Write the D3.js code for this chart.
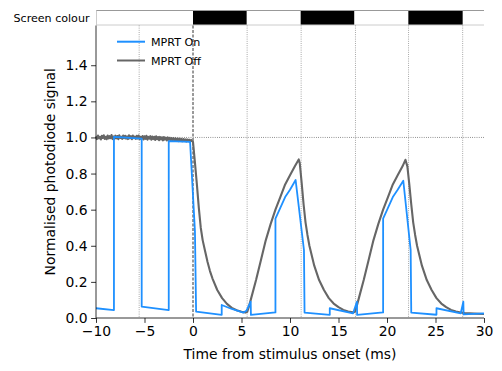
<!DOCTYPE html>
<html>
<head>
<meta charset="utf-8">
<script src="https://cdnjs.cloudflare.com/ajax/libs/d3/7.8.5/d3.min.js"></script>
<style>
  html, body { margin: 0; padding: 0; background: #fff; }
  svg { display: block; font-family: "DejaVu Sans", sans-serif; }
</style>
</head>
<body>
<svg id="chart" width="502" height="371"></svg>
<script>
// ---------------- data ----------------
// MPRT Off (grey), pre-onset noisy baseline: time (ms) and normalised signal
const offBaseTime = [
  -10.0,-9.9,-9.8,-9.7,-9.6,-9.5,-9.4,-9.3,-9.2,-9.1,
  -9.0,-8.9,-8.8,-8.7,-8.6,-8.5,-8.4,-8.3,-8.2,-8.1,
  -8.0,-7.9,-7.8,-7.7,-7.6,-7.5,-7.4,-7.3,-7.2,-7.1,
  -7.0,-6.9,-6.8,-6.7,-6.6,-6.5,-6.4,-6.3,-6.2,-6.1,
  -6.0,-5.9,-5.8,-5.7,-5.6,-5.5,-5.4,-5.3,-5.2,-5.1,
  -5.0,-4.9,-4.8,-4.7,-4.6,-4.5,-4.4,-4.3,-4.2,-4.1,
  -4.0,-3.9,-3.8,-3.7,-3.6,-3.5,-3.4,-3.3,-3.2,-3.1,
  -3.0,-2.9,-2.8,-2.7,-2.6,-2.5,-2.4,-2.3,-2.2,-2.1,
  -2.0,-1.9,-1.8,-1.7,-1.6,-1.5,-1.4,-1.3,-1.2,-1.1,
  -1.0,-0.9,-0.8,-0.7,-0.6,-0.5,-0.4,-0.3,-0.2,-0.1
];
const offBaseValue = [
  1.006,0.991,1.011,0.995,1.003,0.989,1.009,0.997,1.012,0.992,
  1.004,0.990,1.010,0.994,1.007,0.996,1.013,0.991,1.005,0.993,
  1.010,0.995,1.008,0.990,1.012,0.997,1.004,0.992,1.011,0.996,
  1.009,0.993,1.006,0.991,1.012,0.995,1.007,0.990,1.010,0.996,
  1.005,0.992,1.009,0.994,1.011,0.990,1.004,0.993,1.008,0.989,
  1.006,0.992,1.009,0.988,1.003,0.994,1.007,0.987,1.005,0.991,
  1.004,0.986,1.006,0.990,1.002,0.985,1.003,0.989,1.001,0.984,
  1.002,0.988,0.999,0.983,1.000,0.987,0.998,0.982,0.997,0.985,
  0.996,0.981,0.995,0.984,0.994,0.980,0.993,0.983,0.992,0.979,
  0.991,0.982,0.990,0.978,0.989,0.980,0.988,0.977,0.986,0.979
];
// MPRT Off (grey), from stimulus onset
const offTime = [
  0.0,0.2,0.4,0.6,0.8,1.0,1.25,1.5,1.75,2.0,2.5,3.0,3.5,4.0,4.5,5.0,5.4,5.6,
  5.8,6.0,6.5,7.0,7.5,8.0,8.5,9.0,9.5,10.0,10.5,10.9,
  11.0,11.2,11.4,11.6,11.8,12.0,12.5,13.0,13.5,14.0,14.5,15.0,15.5,16.0,16.5,16.7,
  16.9,17.1,17.6,18.1,18.6,19.1,19.6,20.1,20.6,21.1,21.6,21.9,
  22.1,22.3,22.5,22.7,22.9,23.1,23.6,24.1,24.6,25.1,25.6,26.1,26.6,27.1,27.6,28.0,29.0,30.0
];
const offValue = [
  0.975,0.86,0.74,0.61,0.50,0.43,0.37,0.31,0.26,0.22,0.155,0.11,0.078,0.056,0.043,0.034,0.030,0.035,
  0.07,0.11,0.21,0.32,0.43,0.52,0.60,0.67,0.74,0.79,0.84,0.878,
  0.86,0.75,0.63,0.53,0.46,0.40,0.29,0.21,0.155,0.11,0.08,0.06,0.045,0.036,0.031,0.035,
  0.07,0.11,0.21,0.32,0.43,0.52,0.60,0.67,0.74,0.79,0.84,0.876,
  0.84,0.74,0.63,0.53,0.46,0.40,0.29,0.21,0.155,0.11,0.08,0.06,0.045,0.036,0.030,0.027,0.024,0.022
];
// MPRT On (blue)
const onTime = [
  -10.0,-8.15,-8.15,-5.29,-5.29,-2.5,-2.5,-0.3,0.2,0.32,
  2.96,2.96,4.0,5.2,5.5,5.95,5.97,8.5,8.5,9.0,9.5,10.0,10.58,11.44,11.5,
  14.1,14.1,16.5,16.9,16.92,19.6,19.6,20.1,20.6,21.1,21.68,22.44,22.5,
  25.1,25.1,27.6,27.87,27.9,30.0
];
const onValue = [
  0.054,0.044,1.003,0.994,0.063,0.044,0.980,0.975,0.48,0.035,
  0.017,0.072,0.05,0.030,0.040,0.09,0.017,0.031,0.55,0.61,0.67,0.71,0.764,0.376,0.03,
  0.017,0.054,0.026,0.09,0.017,0.031,0.55,0.61,0.67,0.71,0.76,0.376,0.03,
  0.018,0.054,0.026,0.09,0.02,0.026
];
const seriesNames = ["MPRT On", "MPRT Off"];
const seriesColors = ["#1e90ff", "#666666"];
// frame boundaries (ms) and black screen periods
const frameLines = [-5.55, 5.58, 11.15, 16.75, 22.22, 27.8];
const blackStart = [0, 11.1, 22.2];
const blackEnd = [5.53, 16.62, 27.8];
const xTicks = [-10, -5, 0, 5, 10, 15, 20, 25, 30];
const yTicks = [0, 0.2, 0.4, 0.6, 0.8, 1.0, 1.2, 1.4];

// ---------------- layout ----------------
const svg = d3.select("#chart");
const L = 96, R = 484, T = 25.5, B = 318;
const x = d3.scaleLinear().domain([-10, 30]).range([L, R]);
const y = d3.scaleLinear().domain([0, 1.62]).range([B, T]);

// screen colour bar
const barTop = 10.5, barBot = 25;
svg.append("g").selectAll("rect").data(blackStart).join("rect")
  .attr("x", (d, i) => x(d)).attr("width", (d, i) => x(blackEnd[i]) - x(d))
  .attr("y", barTop).attr("height", barBot - barTop).attr("fill", "#000");
svg.append("line").attr("x1", L).attr("x2", R).attr("y1", barTop).attr("y2", barTop)
  .attr("stroke", "#999").attr("stroke-width", 1);
svg.append("line").attr("x1", L).attr("x2", R).attr("y1", barBot).attr("y2", barBot)
  .attr("stroke", "#ccc").attr("stroke-width", 1);
svg.append("line").attr("x1", L + 0.5).attr("x2", L + 0.5).attr("y1", barTop).attr("y2", barBot)
  .attr("stroke", "#ccc").attr("stroke-width", 1);
svg.append("text").attr("x", 89.5).attr("y", 21.5).attr("text-anchor", "end")
  .attr("font-size", "11.1px").text("Screen colour");

// reference lines
svg.append("g").selectAll("line").data(frameLines).join("line")
  .attr("x1", d => x(d)).attr("x2", d => x(d)).attr("y1", T).attr("y2", B)
  .attr("stroke", "#777").attr("stroke-width", 0.8).attr("stroke-dasharray", "0.8,1.4");
svg.append("line").attr("x1", x(0)).attr("x2", x(0)).attr("y1", T).attr("y2", B)
  .attr("stroke", "#000").attr("stroke-width", 0.8).attr("stroke-dasharray", "3,1.5");
svg.append("line").attr("x1", L).attr("x2", R).attr("y1", y(1)).attr("y2", y(1))
  .attr("stroke", "#555").attr("stroke-width", 0.8).attr("stroke-dasharray", "0.8,1.4");

// series
const line = d3.line().x(d => x(d[0])).y(d => y(d[1]));
const offData = offBaseTime.map((t, i) => [t, offBaseValue[i]])
  .concat(offTime.map((t, i) => [t, offValue[i]]));
const onData = onTime.map((t, i) => [t, onValue[i]]);
svg.append("path").datum(offData).attr("d", line).attr("fill", "none")
  .attr("stroke", seriesColors[1]).attr("stroke-width", 2.1).attr("stroke-linejoin", "round");
svg.append("path").datum(onData).attr("d", line).attr("fill", "none")
  .attr("stroke", seriesColors[0]).attr("stroke-width", 1.8).attr("stroke-linejoin", "round");

// axes
const fmtY = d3.format(".1f");
const gx = svg.append("g").attr("transform", `translate(0,${B})`)
  .call(d3.axisBottom(x).tickValues(xTicks).tickSize(4.9).tickPadding(3.5));
const gy = svg.append("g").attr("transform", `translate(${L},0)`)
  .call(d3.axisLeft(y).tickValues(yTicks).tickFormat(fmtY).tickSize(4.9).tickPadding(3.5));
[gx, gy].forEach(g => {
  g.selectAll("text").attr("font-size", "13.9px").attr("font-family", "DejaVu Sans").attr("fill", "#000");
  g.selectAll("line").attr("stroke", "#000").attr("stroke-width", 0.8);
  g.select(".domain").attr("stroke", "#000").attr("stroke-width", 0.8);
});
gy.select(".domain").attr("d", `M-0,${B}V${T}`);
gx.select(".domain").attr("d", `M${L},0H${R}`);

svg.append("text").attr("x", (L + R) / 2).attr("y", 359).attr("text-anchor", "middle")
  .attr("font-size", "13.9px").text("Time from stimulus onset (ms)");
svg.append("text").attr("transform", `translate(55,${(T + B) / 2}) rotate(-90)`)
  .attr("text-anchor", "middle").attr("font-size", "13.9px").text("Normalised photodiode signal");

// legend
const legY = [41.7, 60.5];
const leg = svg.append("g");
seriesNames.forEach((n, i) => {
  leg.append("line").attr("x1", 117).attr("x2", 145).attr("y1", legY[i]).attr("y2", legY[i])
    .attr("stroke", seriesColors[i]).attr("stroke-width", 2);
  leg.append("text").attr("x", 151).attr("y", legY[i] + 4).attr("font-size", "11.1px").text(n);
});
</script>
</body>
</html>
